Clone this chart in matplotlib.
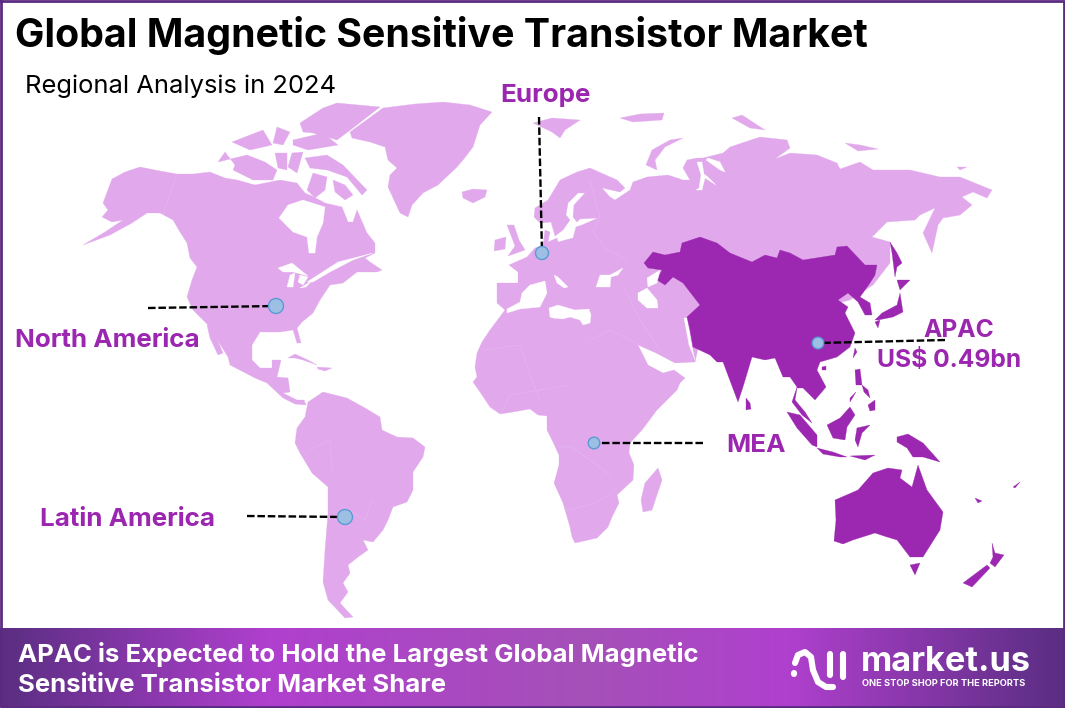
import numpy as np
import matplotlib
matplotlib.use("Agg")
import matplotlib.pyplot as plt
from matplotlib.colors import LinearSegmentedColormap
from matplotlib.patches import Circle

LIGHT = "#E1A9EC"
DARK = "#9C27B0"
LABEL = "#9B26AF"
FRAME = "#5B2A82"

title = "Global Magnetic Sensitive Transistor Market"
subtitle = "Regional Analysis in 2024"
footer_lines = ["APAC is Expected to Hold the Largest Global Magnetic", "Sensitive Transistor Market Share"]

# region labels and the leader line ends, in picture pixels
regions = ["Europe", "North America", "Latin America", "MEA", "APAC\nUS$ 0.49bn"]
marker_xy = [(542, 253), (276, 306), (345, 517), (594, 443), (818, 343)]
marker_r = [6.5, 7.5, 7.5, 5.8, 5.8]
leader_end = [(539, 117), (148, 308), (247, 516), (703, 443), (945, 340)]

# outlines, in pixels
north_america = [(103, 203), (112, 179), (125, 172), (140, 167), (160, 171), (177, 174), (193, 174), (210, 172), (225, 178), (237, 180),
                 (255, 185), (265, 183), (280, 180), (297, 183), (305, 193), (312, 196), (325, 203), (342, 207), (348, 222), (353, 222),
                 (357, 210), (367, 233), (375, 243), (375, 253), (365, 258), (370, 262), (382, 270), (377, 272), (357, 272), (343, 283),
                 (330, 285), (320, 300), (313, 313), (302, 322), (297, 328), (301, 343), (297, 343), (293, 330), (280, 332), (260, 332),
                 (252, 345), (252, 360), (260, 368), (272, 368), (272, 360), (281, 360), (277, 377), (288, 378), (290, 392), (283, 393),
                 (297, 400), (304, 400), (306, 405), (295, 404), (283, 398), (267, 383), (255, 378), (230, 365), (228, 357), (208, 325),
                 (200, 317), (193, 310), (187, 297), (192, 280), (197, 267), (190, 258), (187, 243), (180, 232), (173, 220), (160, 213),
                 (147, 213), (132, 223), (110, 235), (83, 245), (105, 232), (123, 220), (112, 222), (102, 217), (108, 210)]
baja = [(207, 325), (212, 327), (223, 353), (218, 355), (210, 338)]
hudson = [(279, 218), (288, 205), (303, 200), (325, 207), (323, 223), (317, 237), (315, 253), (309, 253), (307, 237), (293, 232)]
lakes = [[(278, 268), (292, 263), (308, 276), (293, 272), (283, 272)], [(290, 275), (295, 273), (293, 287), (287, 287)],
         [(300, 275), (308, 277), (303, 285), (298, 282)], [(300, 288), (313, 280), (306, 287)],
         [(307, 282), (338, 262), (373, 253), (353, 260), (330, 272), (313, 282)]]
arctic = [[(305, 158), (327, 155), (343, 165), (367, 190), (362, 195), (347, 177), (327, 170), (310, 168)],  # baffin
          [(307, 190), (313, 173), (327, 177), (325, 190), (315, 198)],
          [(333, 180), (345, 185), (353, 195), (345, 200), (335, 192)],
          [(300, 123), (323, 108), (337, 103), (380, 107), (353, 128), (337, 140), (313, 133), (303, 132)],  # ellesmere
          [(293, 140), (323, 133), (338, 145), (308, 150), (293, 145)],
          [(277, 127), (290, 132), (283, 145), (273, 143)],
          [(232, 142), (263, 130), (272, 145), (250, 150)],
          [(235, 165), (225, 152), (218, 162), (247, 155), (265, 162), (277, 170), (273, 180), (253, 180), (233, 170)],  # victoria
          [(275, 153), (287, 153), (287, 170), (278, 168)],
          [(292, 153), (303, 152), (297, 173), (288, 167)],
          [(533, 123), (552, 118), (580, 120), (565, 130), (560, 138), (552, 132)],  # svalbard
          [(620, 118), (640, 114), (664, 113), (662, 120), (633, 122)],
          [(646, 165), (652, 150), (670, 140), (683, 138), (665, 147), (655, 160), (657, 170)],  # novaya zemlya
          [(732, 118), (742, 115), (765, 130), (750, 128)],
          [(845, 143), (860, 145), (878, 149), (858, 151)],
          [(957, 167), (967, 167), (960, 170)]]
greenland = [(350, 132), (383, 108), (415, 104), (443, 102), (470, 105), (492, 112), (480, 125), (473, 147), (463, 160), (457, 167),
             (438, 185), (423, 193), (412, 205), (408, 217), (400, 213), (388, 187), (390, 175), (397, 168), (388, 160), (385, 147),
             (370, 142), (352, 138)]
iceland = [(462, 192), (473, 189), (487, 190), (485, 197), (473, 203), (463, 198)]
britain = [(507, 225), (514, 225), (519, 240), (525, 250), (508, 256), (515, 246)]
ireland = [(495, 240), (506, 237), (505, 249), (494, 251)]
cuba = [(288, 358), (295, 354), (308, 360), (317, 365), (303, 360), (295, 358)]
hispaniola = [(317, 367), (332, 368), (325, 371), (318, 369)]
south_america = [(297, 428), (305, 417), (308, 402), (323, 392), (347, 398), (365, 408), (380, 417), (382, 430), (397, 437), (413, 438),
                 (425, 447), (423, 457), (413, 472), (413, 490), (407, 502), (393, 507), (388, 520), (383, 530), (373, 542), (363, 540),
                 (368, 550), (358, 557), (348, 565), (350, 573), (343, 583), (348, 592), (340, 603), (353, 617), (345, 618),
                 (328, 600), (323, 582), (325, 550), (328, 513), (328, 487), (312, 473), (300, 453), (295, 443)]
afro_eurasia = [(509, 265), (527, 257), (535, 248), (543, 245), (545, 230), (550, 232), (548, 242), (557, 238), (558, 242), (573, 238),
                (576, 227), (582, 225), (598, 218), (580, 219), (577, 222), (573, 217), (574, 205), (585, 193), (578, 193), (568, 203),
                (566, 215), (570, 220), (563, 230), (555, 236), (551, 222), (540, 223), (534, 217), (535, 208), (548, 200), (560, 180),
                (577, 172), (590, 168), (617, 180), (625, 188), (620, 192), (602, 188), (610, 197), (615, 200), (630, 190), (633, 182),
                (647, 177), (668, 175), (683, 180), (690, 180), (683, 168), (687, 160), (697, 158), (703, 158), (723, 153), (730, 147),
                (760, 137), (787, 140), (790, 148), (775, 159), (790, 153), (817, 155), (837, 163), (840, 169), (860, 162), (873, 170),
                (910, 170), (940, 177), (960, 177), (992, 190), (987, 198), (973, 192), (962, 197), (972, 205), (960, 215), (943, 218),
                (938, 225), (932, 253), (923, 233), (935, 208), (920, 215), (915, 220), (887, 222), (872, 237), (890, 242), (890, 263),
                (873, 285), (850, 300), (700, 340), (695, 362), (675, 363), (656, 353), (638, 345), (648, 365), (663, 373), (674, 370),
                (685, 378), (680, 383), (677, 390), (657, 410), (642, 430), (630, 443), (629, 453), (634, 465), (633, 480), (617, 495),
                (619, 503), (612, 517), (608, 527), (597, 538), (575, 543), (572, 537), (570, 527), (563, 503), (554, 483), (559, 465),
                (559, 455), (552, 440), (547, 430), (547, 416), (538, 415), (530, 409), (513, 412), (500, 414), (490, 407), (480, 392),
                (473, 382), (477, 377), (475, 367), (477, 353), (482, 342), (490, 330), (505, 310), (497, 303), (497, 283), (518, 283),
                (518, 272)]
west_med = [(507, 309), (520, 302), (522, 293), (530, 285), (545, 281), (547, 293), (540, 307), (520, 309), (507, 313)]
east_med = [(550, 317), (549, 308), (558, 305), (568, 308), (575, 310), (589, 309), (591, 315), (590, 323), (583, 325), (580, 320),
            (570, 317), (563, 319), (553, 318)]
adriatic = [(554, 275), (558, 277), (568, 287), (564, 288), (557, 283)]
black_sea = [(596, 287), (600, 275), (610, 275), (623, 268), (618, 275), (611, 277), (610, 287)]
caspian = [(638, 293), (647, 288), (657, 300), (658, 308), (647, 308), (638, 300)]
ob_gulf = [(697, 162), (701, 175), (699, 188), (696, 190), (702, 190), (705, 178), (716, 185), (708, 177), (704, 174), (702, 162)]
taz_gulf = [(706, 160), (720, 170), (725, 172), (720, 162), (708, 158)]
pak_gap = [(684, 318), (687, 318), (692, 347), (695, 360), (689, 345)]
aral = [(647, 278), (660, 270), (657, 283), (648, 287)]
madagascar = [(658, 468), (662, 480), (652, 510), (643, 512), (641, 500), (645, 483)]
apac_main = [(644, 263), (653, 252), (665, 255), (680, 252), (682, 243), (700, 237), (717, 243), (730, 253), (752, 262), (765, 255),
             (777, 258), (780, 250), (790, 253), (803, 260), (835, 255), (837, 247), (847, 246), (865, 265), (877, 265), (875, 275),
             (870, 283), (860, 297), (870, 303), (872, 315), (865, 315), (858, 302), (848, 293), (838, 300), (848, 307), (845, 313),
             (855, 333), (850, 347), (837, 357), (820, 362), (817, 370), (826, 387), (815, 400), (803, 388), (797, 388), (795, 400),
             (805, 412), (812, 423), (802, 415), (792, 402), (797, 387), (790, 377), (783, 377), (775, 358), (765, 360), (752, 357),
             (743, 387), (738, 402), (723, 362), (717, 362), (710, 355), (693, 347), (690, 330), (687, 317), (700, 305), (683, 283),
             (673, 277), (665, 285), (657, 280), (662, 270), (648, 268)]
apac_islands = [[(746, 398), (750, 403), (751, 409), (746, 410)],  # sri lanka
                [(822, 367), (826, 366), (826, 370), (822, 370)],  # hainan
                [(855, 348), (857, 352), (853, 358)],  # taiwan
                [(855, 370), (860, 369), (862, 385), (856, 385)],  # luzon
                [(868, 405), (875, 400), (875, 410), (870, 411)],  # mindanao
                [(850, 398), (856, 392), (850, 402)],  # palawan
                [(862, 385), (868, 390), (870, 398), (864, 392)],
                [(787, 412), (800, 415), (817, 435), (817, 447), (812, 445), (797, 428)],  # sumatra
                [(827, 425), (840, 418), (850, 407), (855, 415), (847, 427), (845, 440), (833, 438)],  # borneo
                [(817, 448), (833, 452), (847, 457), (840, 457), (823, 454)],  # java
                [(850, 456), (875, 455), (865, 460)],
                [(857, 428), (870, 425), (862, 433), (858, 447), (855, 440)],  # sulawesi
                [(897, 437), (908, 434), (923, 443), (940, 462), (923, 457), (913, 457), (907, 448), (897, 442)],  # new guinea
                [(835, 500), (858, 490), (873, 473), (888, 468), (902, 470), (900, 478), (912, 487), (918, 465), (927, 490),
                 (943, 512), (940, 530), (923, 557), (910, 557), (897, 540), (887, 537), (875, 533), (853, 540), (843, 544),
                 (834, 541), (836, 520)],  # australia
                [(910, 565), (920, 563), (915, 575)],  # tasmania
                [(963, 583), (987, 565), (990, 568), (972, 587)],  # nz south
                [(992, 543), (995, 553), (1004, 555), (995, 567), (990, 563), (993, 557)],  # nz north
                [(900, 293), (903, 312), (893, 317), (878, 320), (875, 320), (882, 313), (897, 305)],  # honshu
                [(875, 322), (880, 320), (878, 328)],  # kyushu
                [(897, 280), (910, 280), (900, 290)],  # hokkaido
                [(890, 242), (897, 253), (902, 263), (897, 267), (895, 277), (892, 253)],  # sakhalin
                [(975, 498), (982, 501), (978, 503)], [(1013, 487), (1020, 482), (1015, 488)]]
# faint country lines
borders = [[(177, 174), (163, 215)], [(590, 180), (600, 217), (593, 232), (607, 250), (627, 260)],
           [(500, 414), (510, 395), (540, 390), (570, 385)], [(483, 350), (520, 345), (530, 375), (540, 400)],
           [(558, 447), (572, 447), (590, 460), (610, 475)], [(566, 510), (590, 505), (610, 495)],
           [(310, 450), (330, 440), (332, 470)], [(340, 505), (365, 520), (372, 500)],
           [(590, 340), (610, 330), (640, 345)], [(625, 290), (640, 320), (660, 350)]]

fig = plt.figure(figsize=(10.65, 7.08), dpi=100)
ax = fig.add_axes([0, 0, 1, 1])
ax.set_xlim(0, 1065)
ax.set_ylim(708, 0)
ax.axis("off")


def shape(points, color, z=2):
    xs, ys = zip(*points)
    ax.fill(xs, ys, color=color, lw=0.2, zorder=z)


for part in [north_america, baja, greenland, iceland, britain, ireland, cuba, hispaniola, south_america,
             afro_eurasia, madagascar] + arctic:
    shape(part, LIGHT)
for part in [hudson, west_med, east_med, adriatic, black_sea, caspian, ob_gulf, taz_gulf, pak_gap] + lakes:
    shape(part, "white", 3)
for line in borders:
    xs, ys = zip(*line)
    ax.plot(xs, ys, color="white", lw=0.3, alpha=0.22, zorder=3)
shape(apac_main, DARK, 4)
for part in apac_islands:
    shape(part, DARK, 4)
shape(aral, "white", 5)

for (x, y), (ex, ey), r in zip(marker_xy, leader_end, marker_r):
    ax.plot([ex, x], [ey, y], color="black", lw=1.7, dashes=(3.2, 1.2), zorder=6)
    ax.add_patch(Circle((x, y), r, facecolor="#9DBFE3", edgecolor="#5B9BD5", lw=1, zorder=7))

font = "Inter"
ax.text(15, 47, title, fontsize=28.3, fontweight="bold", family=font, color="black", va="baseline", zorder=8)
ax.text(25, 93, subtitle, fontsize=18.4, family=font, color="black", va="baseline", zorder=8)

label_xy = [(500, 102), (15, 347), (40, 526), (726, 452)]
for name, (x, y) in zip(regions[:4], label_xy):
    ax.text(x, y, name, fontsize=18.7, fontweight="bold", family=font, color=LABEL, va="baseline", zorder=8)
apac, value = regions[4].split("\n")
ax.text(959, 337, apac, fontsize=17.7, fontweight="bold", family=font, color=LABEL, va="baseline", ha="center", zorder=8)
ax.text(949, 367, value, fontsize=17.7, fontweight="bold", family=font, color=LABEL, va="baseline", ha="center", zorder=8)

# footer band
band = LinearSegmentedColormap.from_list("band", [(0, "#5A2E82"), (0.25, "#B040CE"), (0.55, "#A550B8"),
                                                   (0.74, "#B040CE"), (1, "#5A2E82")])
ax.imshow(np.linspace(0, 1, 256)[None, :], cmap=band, extent=(0, 1065, 707, 628), aspect="auto", zorder=1)
ax.set_xlim(0, 1065)
ax.set_ylim(708, 0)
ax.text(18, 662, footer_lines[0], fontsize=18.5, fontweight="bold", family=font, color="white", va="baseline", zorder=8)
ax.text(18, 692, footer_lines[1], fontsize=18.5, fontweight="bold", family=font, color="white", va="baseline", zorder=8)

# market.us logo
for path in [[(795, 663), (798, 655), (805, 652), (811, 657), (813, 670), (818, 682), (826, 687), (833, 687)],
             [(830, 654), (830, 675)], [(843, 654), (843, 677)], [(794, 673), (794, 673.5)]]:
    xs, ys = zip(*path)
    ax.plot(xs, ys, color="white", lw=4.4, solid_capstyle="round", solid_joinstyle="round", zorder=8)
ax.text(861, 671, "market.us", fontsize=24.7, fontweight="bold", family=font, color="white", va="baseline", zorder=8)
ax.text(862, 686, "ONE STOP SHOP FOR THE REPORTS", fontsize=6.7, fontweight="bold", family=font, color="white", va="baseline", zorder=8)

# picture frame
ax.plot([1, 1064, 1064, 1, 1], [1, 1, 707, 707, 1], color=FRAME, lw=2, zorder=9)

fig.savefig("out.png", dpi=100)
